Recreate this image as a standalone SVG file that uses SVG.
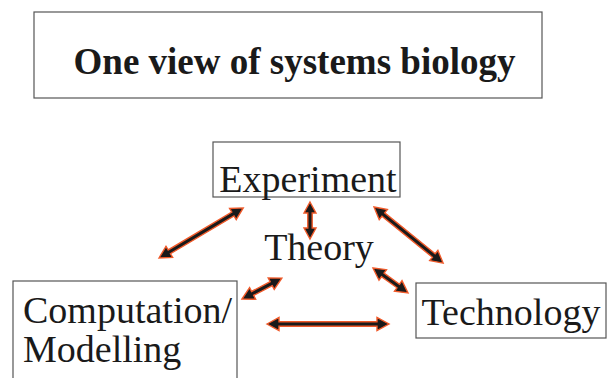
<svg xmlns="http://www.w3.org/2000/svg" width="608" height="378" viewBox="0 0 608 378">
  <style>
    .box { fill: #ffffff; stroke: #555555; stroke-width: 1.2; }
    .title { font-family: "Liberation Serif", "Times New Roman", serif; font-weight: bold; font-size: 37px; fill: #1a1a1a; }
    .label { font-family: "Liberation Serif", "Times New Roman", serif; font-size: 38px; fill: #1a1a1a; }
    .arrow { fill: #1a1a1a; stroke: #f05a2a; stroke-width: 1.4; stroke-linejoin: miter; }
  </style>
  <rect width="608" height="378" fill="#ffffff"/>

  <g id="title">
    <rect class="box" x="34" y="12" width="508" height="86" stroke="#666666" stroke-width="1.5"/>
    <text class="title" x="294.5" y="74" text-anchor="middle">One view of systems biology</text>
  </g>

  <g id="experiment">
    <rect class="box" x="213" y="142" width="187" height="55"/>
    <text class="label" x="308" y="192" text-anchor="middle">Experiment</text>
  </g>

  <g id="theory">
    <text class="label" x="319" y="260" text-anchor="middle">Theory</text>
  </g>

  <g id="computation">
    <rect class="box" x="13" y="281" width="224" height="110"/>
    <text class="label" x="23" y="323">Computation/</text>
    <text class="label" x="23" y="362">Modelling</text>
  </g>

  <g id="technology">
    <rect class="box" x="416" y="283" width="190" height="55"/>
    <text class="label" x="511" y="325" text-anchor="middle">Technology</text>
  </g>

  <g id="connectors">
    <!-- Computation/Modelling <-> Experiment -->
    <polygon class="arrow" transform="translate(159,258) rotate(-30.76)" points="0,0 12,-6.5 12,-2.2 86,-2.2 86,-6.5 98,0 86,6.5 86,2.2 12,2.2 12,6.5"/>
    <!-- Experiment <-> Theory -->
    <polygon class="arrow" transform="translate(310,202) rotate(90)" points="0,0 11,-6 11,-2.2 26,-2.2 26,-6 37,0 26,6 26,2.2 11,2.2 11,6"/>
    <!-- Experiment <-> Technology -->
    <polygon class="arrow" transform="translate(374,207) rotate(39.06)" points="0,0 12,-6.5 12,-2.2 77,-2.2 77,-6.5 89,0 77,6.5 77,2.2 12,2.2 12,6.5"/>
    <!-- Computation/Modelling <-> Theory -->
    <polygon class="arrow" transform="translate(242,299) rotate(-27.7)" points="0,0 12,-6.5 12,-2.2 33,-2.2 33,-6.5 45,0 33,6.5 33,2.2 12,2.2 12,6.5"/>
    <!-- Computation/Modelling <-> Technology -->
    <polygon class="arrow" transform="translate(267,324)" points="0,0 12,-6.5 12,-2.2 110,-2.2 110,-6.5 122,0 110,6.5 110,2.2 12,2.2 12,6.5"/>
    <!-- Theory <-> Technology -->
    <polygon class="arrow" transform="translate(373,268) rotate(35.5)" points="0,0 12,-6.5 12,-2.2 31,-2.2 31,-6.5 43,0 31,6.5 31,2.2 12,2.2 12,6.5"/>
  </g>
</svg>
